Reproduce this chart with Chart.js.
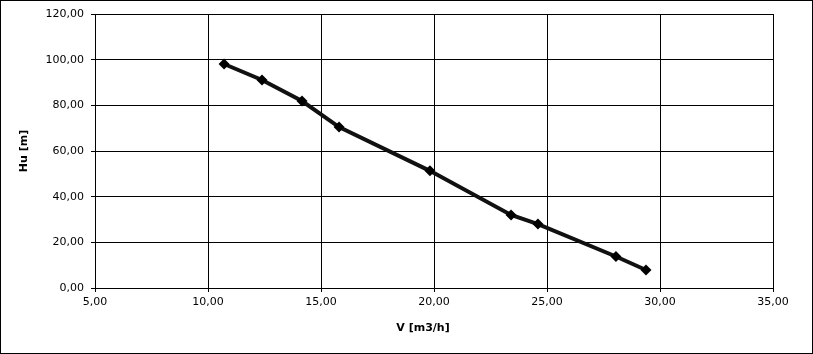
<!DOCTYPE html>
<html>
<head>
<meta charset="utf-8">
<script src="https://cdn.jsdelivr.net/npm/chart.js@4.4.1/dist/chart.umd.min.js"></script>
<style>
  html, body { margin: 0; padding: 0; background: #fff; }
  #chart { display: block; }
</style>
</head>
<body>
<canvas id="chart" width="813" height="354"></canvas>
<script>
// Pump curve points
var flowValues = [10.71, 12.39, 14.16, 15.80, 19.82, 23.41, 24.60, 28.05, 29.38];
var headValues = [98.1, 91.1, 81.9, 70.5, 51.3, 32.0, 28.0, 13.8, 7.9];

var xTicks = [5, 10, 15, 20, 25, 30, 35];
var yTicks = [0, 20, 40, 60, 80, 100, 120];

var xTitle = 'V [m3/h]';
var yTitle = 'Hu [m]';

function fmt(v) {
  return v.toFixed(2).replace('.', ',');
}

var points = flowValues.map(function (x, i) { return { x: x, y: headValues[i] }; });

// white background, frame around the whole picture, x title (sits a bit left of centre)
var framePlugin = {
  id: 'frame',
  beforeDraw: function (chart) {
    var ctx = chart.ctx;
    ctx.save();
    ctx.fillStyle = '#fff';
    ctx.fillRect(0, 0, chart.width, chart.height);
    ctx.restore();
  },
  afterDraw: function (chart) {
    var ctx = chart.ctx;
    ctx.save();
    ctx.strokeStyle = '#000';
    ctx.lineWidth = 1;
    ctx.strokeRect(0.5, 0.5, chart.width - 1, chart.height - 1);
    ctx.fillStyle = '#000';
    ctx.font = "bold 11px 'DejaVu Sans', sans-serif";
    ctx.textAlign = 'center';
    ctx.textBaseline = 'middle';
    var area = chart.chartArea;
    ctx.fillText(xTitle, (area.left + area.right) / 2 - 11, area.bottom + 40);
    ctx.restore();
  }
};

Chart.defaults.font.family = "'DejaVu Sans', sans-serif";
Chart.defaults.color = '#000';

new Chart(document.getElementById('chart'), {
  type: 'scatter',
  data: {
    datasets: [{
      data: points,
      showLine: true,
      borderColor: '#111',
      backgroundColor: '#000',
      borderWidth: 4,
      tension: 0,
      pointStyle: 'rectRot',
      pointRadius: 5.5,
      pointBorderWidth: 0
    }]
  },
  options: {
    responsive: false,
    animation: false,
    devicePixelRatio: 1,
    layout: { padding: { top: 14, right: 40, left: 0, bottom: 0 } },
    plugins: {
      legend: { display: false },
      tooltip: { enabled: false }
    },
    scales: {
      x: {
        type: 'linear',
        min: 5,
        max: 35,
        afterBuildTicks: function (axis) {
          axis.ticks = xTicks.map(function (v) { return { value: v }; });
        },
        afterFit: function (axis) { axis.height = 66; },
        ticks: {
          font: { size: 11 },
          padding: 4,
          maxRotation: 0,
          callback: function (v) { return fmt(v); }
        },
        grid: { color: '#000', lineWidth: 1, tickLength: 4 },
        border: { color: '#000' }
      },
      y: {
        type: 'linear',
        min: 0,
        max: 120,
        afterBuildTicks: function (axis) {
          axis.ticks = yTicks.map(function (v) { return { value: v }; });
        },
        afterFit: function (axis) { axis.width = 95; },
        ticks: {
          font: { size: 11 },
          padding: 7,
          callback: function (v) { return fmt(v); }
        },
        grid: { color: '#000', lineWidth: 1, tickLength: 4 },
        border: { color: '#000' },
        title: {
          display: true,
          text: yTitle,
          font: { size: 11, weight: 'bold' },
          padding: { top: 18, bottom: 4 }
        }
      }
    }
  },
  plugins: [framePlugin]
});
</script>
</body>
</html>
